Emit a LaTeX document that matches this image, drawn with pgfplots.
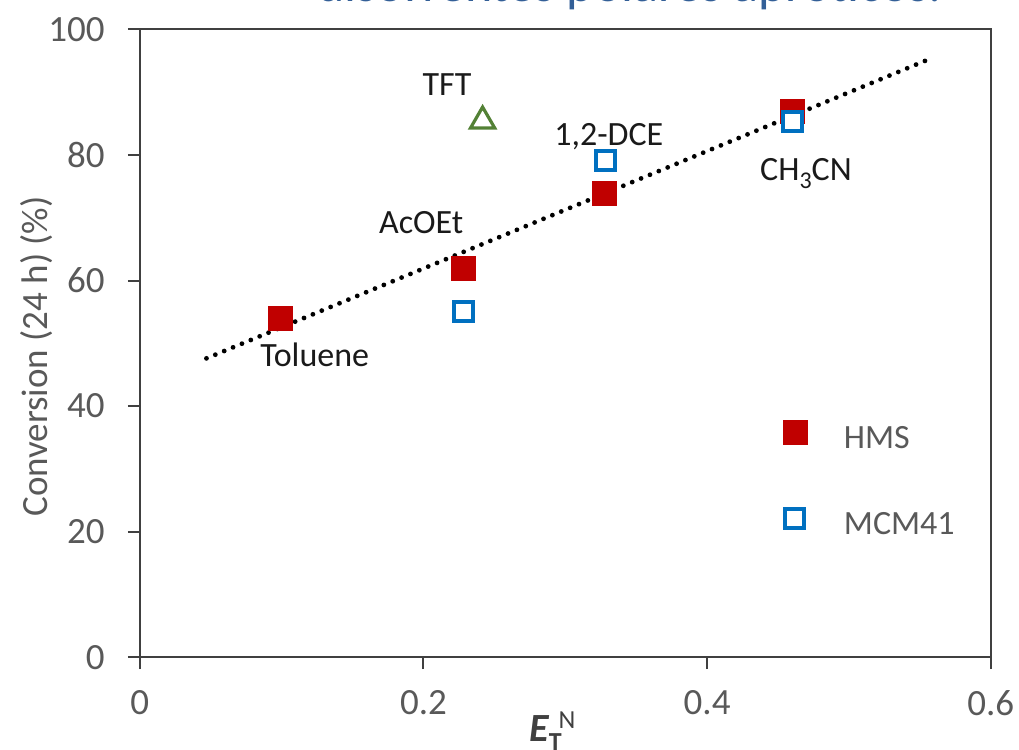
\documentclass[border=0pt]{standalone}
\usepackage{fontspec}
\setmainfont{Carlito}
\usepackage{pgfplots}
\pgfplotsset{compat=1.18}
\definecolor{hmsred}{HTML}{C00000}
\definecolor{mcmblue}{HTML}{0070C0}
\definecolor{tftgreen}{HTML}{538135}
\definecolor{axgray}{HTML}{404040}
\definecolor{txtgray}{HTML}{595959}
\definecolor{titleblue}{HTML}{335F97}
\definecolor{annblack}{HTML}{1A1A1A}
\begin{document}
\begin{tikzpicture}
\path[use as bounding box] (-69.9pt,-46pt) rectangle (439.6pt,328.6pt);
\begin{axis}[
  scale only axis, width=425.5pt, height=313.9pt,
  xmin=0, xmax=0.6, ymin=0, ymax=100,
  xtick={0,0.2,0.4,0.6}, ytick={0,20,40,60,80,100},
  xtick pos=bottom, ytick pos=left,
  tick align=outside, major tick length=6pt,
  axis line style={axgray, line width=1pt},
  tick style={axgray, line width=1pt},
  tick label style={font=\fontsize{18.5}{21}\selectfont, text=txtgray},
  /pgf/number format/assume math mode=true,
  yticklabel style={xshift=-8pt},
  xticklabel style={yshift=-7pt},
  title={disolventes polares apróticos.},
  title style={at={(axis description cs:0.2082,1.0258)}, anchor=base west, font=\fontsize{26}{30}\selectfont, text=titleblue, inner sep=0pt},
  ylabel={Conversion (24 h) (\%)},
  every axis y label/.style={at={(axis description cs:-0.1081,0.479)}, rotate=90, anchor=base, font=\fontsize{18.5}{22}\selectfont, text=txtgray, inner sep=0pt},
  xlabel={\fontsize{20}{22}\selectfont\bfseries\itshape E\upshape\raisebox{-4.5pt}{\fontsize{13}{15}\selectfont T}\hspace{-1.5pt}\mdseries\raisebox{6.5pt}{\fontsize{13}{15}\selectfont N}},
  every axis x label/.style={at={(axis description cs:0.4573,-0.1338)}, anchor=base west, text=axgray, inner sep=0pt},
  legend style={at={(axis description cs:0.744,0.3773)}, anchor=north west, draw=none, fill=none, inner sep=0pt, outer sep=0pt, row sep=24.5pt, column sep=13.5pt, font=\fontsize{17}{20}\selectfont, text=txtgray, nodes={inner sep=0pt}},
  legend cell align=left,
  legend image code/.code={\draw[#1] plot coordinates {(10pt,5.5pt)}; \path (0pt,0pt) (20pt,0pt);},
]
\addplot[only marks, mark=square*, mark size=6pt, draw=hmsred, fill=hmsred, line width=0.4pt]
  coordinates {(0.099,53.9) (0.228,62.0) (0.3275,73.8) (0.460,86.9)};
\addlegendentry{\raisebox{4.5pt}{HMS}}
\addplot[only marks, mark=square*, mark size=4.75pt, draw=mcmblue, fill=white, line width=2pt]
  coordinates {(0.228,55.1) (0.328,79.1) (0.4605,85.3)};
\addlegendentry{\raisebox{4.5pt}{MCM41}}
\addplot[only marks, mark=triangle, mark size=7pt, draw=tftgreen, line width=1.6pt, forget plot]
  coordinates {(0.2417,85.4)};
\addplot[black, line width=2.4pt, line cap=round, dash pattern=on 0pt off 4.8pt, forget plot]
  coordinates {(0.047,47.6) (0.557,95.3)};
\node[font=\fontsize{17}{20}\selectfont, text=annblack, anchor=center] at (axis cs:0.2166,91.25) {TFT};
\node[font=\fontsize{17}{20}\selectfont, text=annblack, anchor=base] at (axis cs:0.3307,81.57) {1,2-DCE};
\node[font=\fontsize{17}{20}\selectfont, text=annblack, anchor=base] at (axis cs:0.1984,67.5) {AcOEt};
\node[font=\fontsize{17}{20}\selectfont, text=annblack, anchor=base] at (axis cs:0.1233,46.36) {Toluene};
\node[font=\fontsize{17}{20}\selectfont, text=annblack, anchor=base] at (axis cs:0.4697,76.0) {CH\raisebox{-4pt}{\fontsize{12}{14}\selectfont 3}CN};
\end{axis}
\end{tikzpicture}
\end{document}
